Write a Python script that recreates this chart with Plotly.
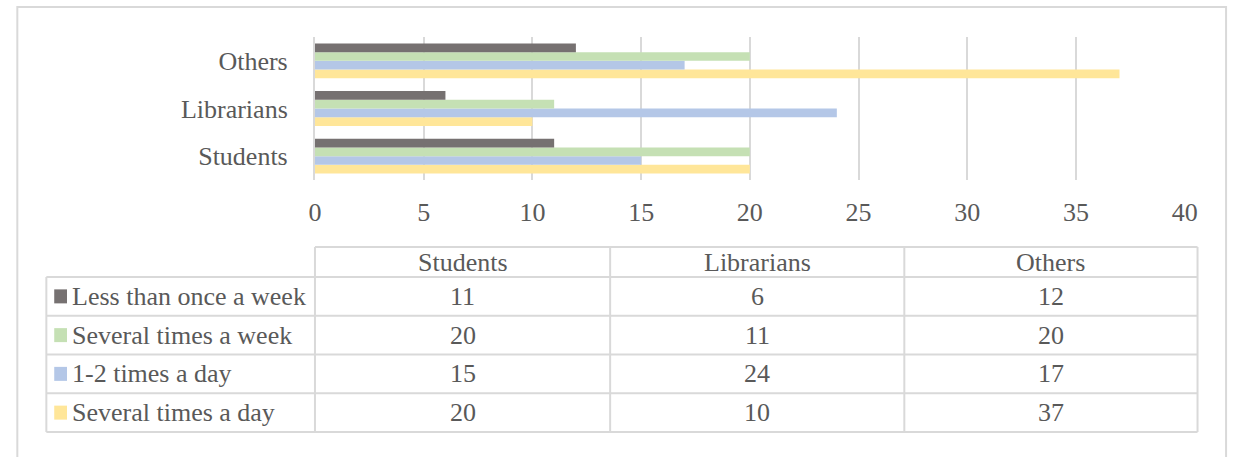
import plotly.graph_objects as go

# ---- data -------------------------------------------------------------
groups = ["Students", "Librarians", "Others"]
series_names = [
    "Less than once a week",
    "Several times a week",
    "1-2 times a day",
    "Several times a day",
]
less_than_once_a_week = [11, 6, 12]
several_times_a_week = [20, 11, 20]
one_two_times_a_day = [15, 24, 17]
several_times_a_day = [20, 10, 37]
x_ticks = [0, 5, 10, 15, 20, 25, 30, 35, 40]

series_values = [
    less_than_once_a_week,
    several_times_a_week,
    one_two_times_a_day,
    several_times_a_day,
]
series_colors = ["#767171", "#c5e0b4", "#b4c7e7", "#ffe699"]

# ---- layout helpers (pixel -> paper) ---------------------------------
W, H = 1243, 457
FONT = "Times New Roman, Tinos, Liberation Serif, DejaVu Serif, serif"
TXT = "#595959"
LINE = "#d9d9d9"
FS = 26


def px(x):
    return x / W


def py(y):
    return 1 - y / H


fig = go.Figure()

# bars: added bottom-to-top so the first series sits on top of each group
for name, vals, col in reversed(list(zip(series_names, series_values, series_colors))):
    fig.add_trace(
        go.Bar(
            y=groups,
            x=vals,
            name=name,
            orientation="h",
            marker=dict(color=col, line=dict(width=0)),
            showlegend=False,
        )
    )

# ---- data table below the chart --------------------------------------
col_edges = [313, 613, 912, 1210]
label_left = 40
header_top, header_bot = 247, 277
table_bot = 432
n_rows = len(series_names)
row_h = (table_bot - header_bot) / n_rows
row_edges = [header_bot + i * row_h for i in range(n_rows + 1)]

shapes = []


def hline(x0, x1, y):
    shapes.append(dict(type="line", xref="paper", yref="paper",
                       x0=px(x0), x1=px(x1), y0=py(y), y1=py(y),
                       line=dict(color=LINE, width=2)))


def vline(x, y0, y1):
    shapes.append(dict(type="line", xref="paper", yref="paper",
                       x0=px(x), x1=px(x), y0=py(y0), y1=py(y1),
                       line=dict(color=LINE, width=2)))


# outer frame
shapes.append(dict(type="rect", xref="paper", yref="paper",
                   x0=px(10.5), x1=px(1239), y0=-0.1, y1=py(7),
                   line=dict(color=LINE, width=2), fillcolor="rgba(0,0,0,0)"))

hline(col_edges[0], col_edges[-1], header_top)
for y in row_edges:
    hline(label_left, col_edges[-1], y)
vline(label_left, header_bot, table_bot)
for x in col_edges:
    vline(x, header_top, table_bot)

annotations = []
col_centers = [(col_edges[i] + col_edges[i + 1]) / 2 for i in range(len(groups))]
for g, cx in zip(groups, col_centers):
    annotations.append(dict(x=px(cx), y=py((header_top + header_bot) / 2),
                            xref="paper", yref="paper", text=g, showarrow=False,
                            xanchor="center", yanchor="middle",
                            font=dict(family=FONT, size=FS, color=TXT)))

for i, (name, vals, col) in enumerate(zip(series_names, series_values, series_colors)):
    yc = (row_edges[i] + row_edges[i + 1]) / 2
    # legend key
    shapes.append(dict(type="rect", xref="paper", yref="paper",
                       x0=px(48), x1=px(61), y0=py(yc + 7), y1=py(yc - 7),
                       line=dict(width=0), fillcolor=col))
    annotations.append(dict(x=px(64), y=py(yc), xref="paper", yref="paper",
                            text=name, showarrow=False, xanchor="left", yanchor="middle",
                            font=dict(family=FONT, size=FS, color=TXT)))
    for v, cx in zip(vals, col_centers):
        annotations.append(dict(x=px(cx), y=py(yc), xref="paper", yref="paper",
                                text=str(v), showarrow=False,
                                xanchor="center", yanchor="middle",
                                font=dict(family=FONT, size=FS, color=TXT)))

fig.update_layout(
    width=W,
    height=H,
    margin=dict(l=0, r=0, t=0, b=0),
    paper_bgcolor="white",
    plot_bgcolor="white",
    font=dict(family=FONT, size=FS, color=TXT),
    barmode="group",
    bargap=0.27,
    bargroupgap=0,
    shapes=shapes,
    annotations=annotations,
    xaxis=dict(
        domain=[px(313), px(1197)],
        range=[0, 40],
        tickvals=x_ticks,
        ticktext=[str(t) for t in x_ticks],
        showgrid=True,
        gridcolor=LINE,
        gridwidth=2,
        zeroline=False,
        showline=False,
        ticks="",
        ticklabelstandoff=14,
        tickfont=dict(family=FONT, size=FS, color=TXT),
        fixedrange=True,
    ),
    yaxis=dict(
        domain=[py(180), py(37)],
        categoryorder="array",
        categoryarray=groups,
        showline=True,
        linecolor=LINE,
        linewidth=2,
        showgrid=False,
        zeroline=False,
        ticks="",
        ticklabelstandoff=20,
        tickfont=dict(family=FONT, size=FS, color=TXT),
        fixedrange=True,
    ),
)

fig.write_html("out.html")
